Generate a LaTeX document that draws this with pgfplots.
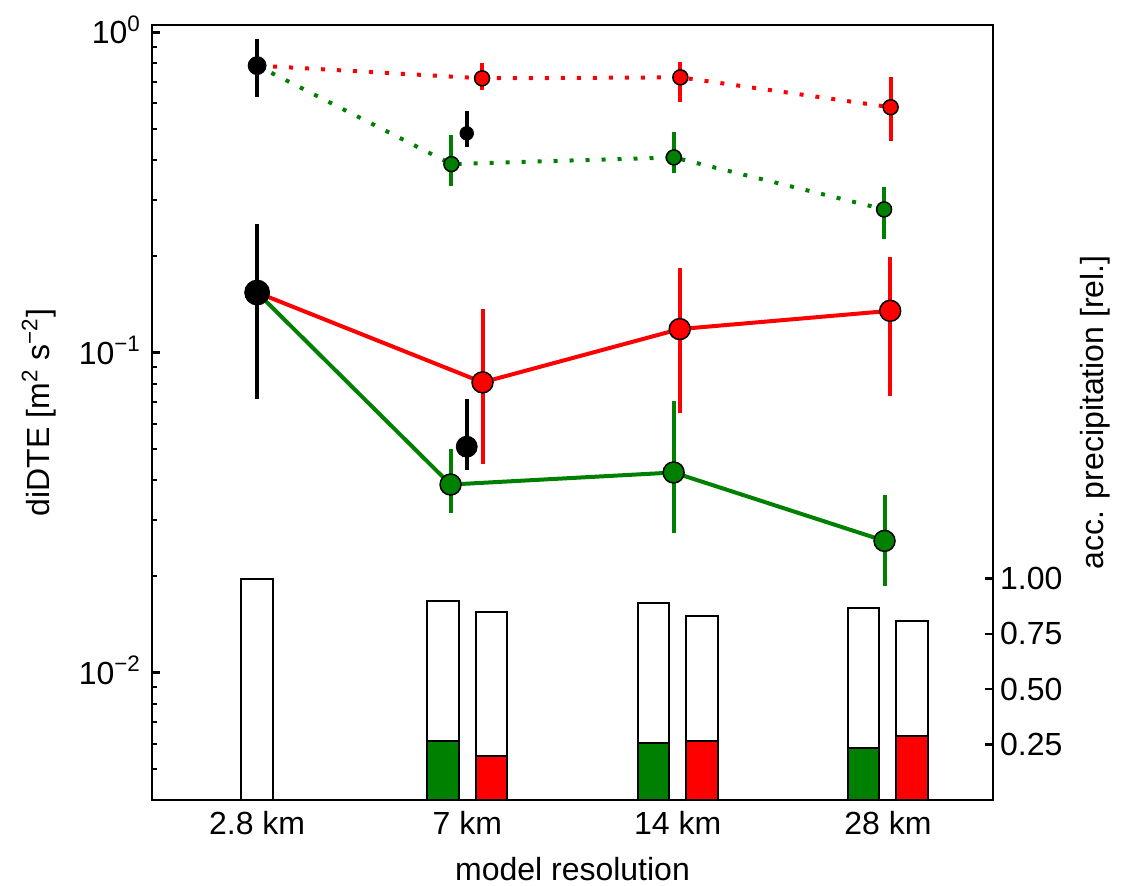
\documentclass[border=0pt]{standalone}
\usepackage{fontspec}
\setmainfont{Liberation Sans}
\usepackage{pgfplots}
\pgfplotsset{compat=1.18}
\definecolor{mgreen}{rgb}{0,0.502,0}
\newcommand{\lbl}{\fontsize{16}{19}\selectfont}
\begin{document}
\lbl
\begin{tikzpicture}
\path[use as bounding box] (-76pt,-42.5pt) rectangle (488pt,400pt);
% ---------------- bar axis (right) ----------------
\begin{axis}[
 scale only axis, width=420.5pt, height=387.5pt,
 xmin=-0.5, xmax=3.5, ymin=0, ymax=3.5,
 axis line style={line width=1.3pt},
 xtick=\empty,
 ytick={0.25,0.5,0.75,1}, yticklabels={0.25,0.50,0.75,1.00},
 ytick pos=right, yticklabel pos=right,
 tick align=inside, major tick length=4pt,
 tick style={line width=1.2pt, black},
 tick label style={font=\lbl},
 label style={font=\lbl},
 yticklabel style={xshift=-2pt},
 ylabel={acc. precipitation [rel.]},
 ylabel style={at={(axis description cs:1.1308,0.5)}, anchor=base},
 ybar, bar width=0.15, bar shift=0pt,
]
\addplot[fill=white, draw=black, line width=1pt] coordinates {(0,1.00) (0.885,0.897) (1.115,0.848) (1.885,0.890) (2.115,0.833) (2.885,0.868) (3.115,0.807)};
\addplot[fill=mgreen, draw=black, line width=1pt] coordinates {(0.885,0.268) (1.885,0.259) (2.885,0.233)};
\addplot[fill=red, draw=black, line width=1pt] coordinates {(1.115,0.197) (2.115,0.267) (3.115,0.289)};
\end{axis}
% ---------------- log axis (left) ----------------
\begin{axis}[
 scale only axis, width=420.5pt, height=387.5pt,
 ymode=log, xmin=-0.5, xmax=3.5, ymin=0.004, ymax=1.055,
 axis line style={line width=1.3pt},
 xtick={0,1,2,3}, xticklabels={2.8 km,7 km,14 km,28 km},
 xtick pos=bottom, xtick style={draw=none},
 ytick={0.01,0.1,1},
 yticklabels={10\textsuperscript{−2},10\textsuperscript{−1},10\textsuperscript{0}},
 minor ytick={0.005,0.006,0.007,0.008,0.009,0.02,0.03,0.04,0.05,0.06,0.07,0.08,0.09,0.2,0.3,0.4,0.5,0.6,0.7,0.8,0.9},
 ytick pos=left, tick align=inside,
 major tick length=4pt, minor tick length=2.5pt,
 ytick style={black},
 major tick style={line width=1.2pt},
 minor tick style={line width=1pt},
 tick label style={font=\lbl},
 label style={font=\lbl},
 yticklabel style={anchor=base east, yshift=-0.358em},
 xlabel={model resolution},
 xlabel style={at={(axis description cs:0.5,-0.1032)}, anchor=base},
 ylabel={diDTE [m\textsuperscript{2} s\textsuperscript{−2}]},
 ylabel style={at={(axis description cs:-0.1213,0.5)}, anchor=base},
]
% error bars
\addplot[black, line width=2pt] coordinates {(0,0.630) (0,0.952)};
\addplot[black, line width=2pt] coordinates {(0,0.0716) (0,0.252)};
\addplot[black, line width=2pt] coordinates {(0.997,0.440) (0.997,0.568)};
\addplot[black, line width=2pt] coordinates {(0.997,0.043) (0.997,0.0716)};
\addplot[red, line width=2pt] coordinates {(1.070,0.661) (1.070,0.801)};
\addplot[red, line width=2pt] coordinates {(2.013,0.608) (2.013,0.807)};
\addplot[red, line width=2pt] coordinates {(3.013,0.458) (3.013,0.728)};
\addplot[red, line width=2pt] coordinates {(1.072,0.0447) (1.072,0.1365)};
\addplot[red, line width=2pt] coordinates {(2.010,0.0648) (2.010,0.1834)};
\addplot[red, line width=2pt] coordinates {(3.011,0.0733) (3.011,0.199)};
\addplot[mgreen, line width=2pt] coordinates {(0.924,0.332) (0.924,0.478)};
\addplot[mgreen, line width=2pt] coordinates {(1.982,0.363) (1.982,0.488)};
\addplot[mgreen, line width=2pt] coordinates {(2.982,0.226) (2.982,0.330)};
\addplot[mgreen, line width=2pt] coordinates {(0.920,0.0316) (0.920,0.0498)};
\addplot[mgreen, line width=2pt] coordinates {(1.981,0.0273) (1.981,0.0707)};
\addplot[mgreen, line width=2pt] coordinates {(2.984,0.0186) (2.984,0.0359)};
% lines
\addplot[red, line width=2pt, dash pattern=on 2pt off 6pt] coordinates {(0,0.788) (1.070,0.719) (2.013,0.724) (3.013,0.584)};
\addplot[mgreen, line width=2pt, dash pattern=on 2pt off 6pt] coordinates {(0,0.788) (0.924,0.388) (1.982,0.407) (2.982,0.280)};
\addplot[red, line width=2pt] coordinates {(0,0.154) (1.072,0.0807) (2.010,0.1184) (3.011,0.135)};
\addplot[mgreen, line width=2pt] coordinates {(0,0.154) (0.920,0.0387) (1.981,0.0422) (2.984,0.0258)};
% markers
\addplot[only marks, mark=*, mark size=3.75pt, mark options={fill=red, draw=black, line width=0.75pt}] coordinates {(1.070,0.719) (2.013,0.724) (3.013,0.584)};
\addplot[only marks, mark=*, mark size=3.75pt, mark options={fill=mgreen, draw=black, line width=0.75pt}] coordinates {(0.924,0.388) (1.982,0.407) (2.982,0.280)};
\addplot[only marks, mark=*, mark size=5.25pt, mark options={fill=red, draw=black, line width=0.75pt}] coordinates {(1.072,0.0807) (2.010,0.1184) (3.011,0.135)};
\addplot[only marks, mark=*, mark size=5.25pt, mark options={fill=mgreen, draw=black, line width=0.75pt}] coordinates {(0.920,0.0387) (1.981,0.0422) (2.984,0.0258)};
\addplot[only marks, mark=*, mark size=4.5pt, mark options={fill=black, draw=black}] coordinates {(0,0.788)};
\addplot[only marks, mark=*, mark size=6.25pt, mark options={fill=black, draw=black}] coordinates {(0,0.154)};
\addplot[only marks, mark=*, mark size=3.4pt, mark options={fill=black, draw=black}] coordinates {(0.997,0.484)};
\addplot[only marks, mark=*, mark size=5.25pt, mark options={fill=black, draw=black}] coordinates {(0.997,0.0508)};
\end{axis}
\end{tikzpicture}
\end{document}
